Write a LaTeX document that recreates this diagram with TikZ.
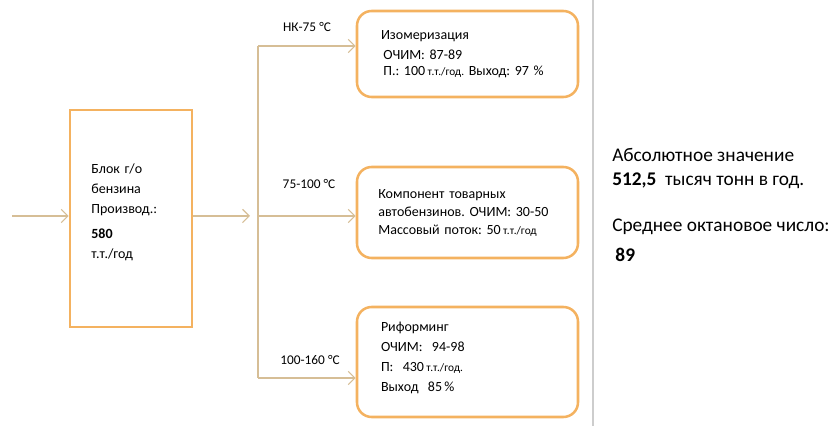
\documentclass[tikz,border=0pt]{standalone}
\usepackage{fontspec}
\setmainfont{Carlito}
\frenchspacing
\usetikzlibrary{arrows.meta}
\definecolor{boxorange}{RGB}{244,178,96}
\definecolor{flowtan}{RGB}{214,190,150}
\definecolor{sepgray}{RGB}{205,205,205}
\newcommand{\unitsm}[1]{{\fontsize{8.5}{10}\selectfont #1}}
\tikzset{
	blockbox/.style={draw=boxorange, line width=1.9pt, minimum width=91.5pt, minimum height=162.75pt, inner xsep=16pt, text width=59.5pt, align=left, font=\fontsize{10.5}{15}\selectfont},
	procbox/.style={draw=boxorange, line width=1.9pt, rounded corners=11pt, minimum width=165.75pt, inner xsep=18pt, text width=129.75pt, align=left, font=\fontsize{10.5}{13.5}\selectfont},
	flow/.style={draw=flowtan, line width=0.8pt},
	flowarrow/.style={flow, -{Straight Barb[length=5pt,width=10pt]}},
	templabel/.style={inner sep=0.75pt, font=\fontsize{10}{12}\selectfont},
	sumtext/.style={anchor=north west, inner sep=0pt, align=left, font=\fontsize{14.5}{18}\selectfont}
}
\begin{document}
\begin{tikzpicture}[x=0.75pt,y=0.75pt,yscale=-1,xscale=1]
	\useasboundingbox (0,0) rectangle (829,434);
	%Separator line
	\draw [color=sepgray, line width=0.8pt] (593,0) -- (593,426) ;
	%Feed block
	\draw (131,218.5) node (block) [blockbox] {Блок г/о\\бензина\\Производ.:\\[4pt]\textbf{580}\\т.т./год\\[-4pt]\mbox{}};
	%Process boxes
	\draw (467.5,54) node (iso) [procbox, minimum height=64.5pt] {Изомеризация\\[1.5pt]\,ОЧИМ: 87-89\\[-2pt]\,П.: 100\,\unitsm{т.т./год.} Выход: 97 \%};
	\draw (467.5,212.5) node (comp) [procbox, minimum height=68.25pt, inner xsep=16pt, text width=133.75pt] {Компонент товарных\\автобензинов. ОЧИМ: 30-50\\Массовый поток: 50\,\unitsm{т.т./год}};
	\draw (467.5,362) node (ref) [procbox, minimum height=82.5pt, font=\fontsize{10.5}{15}\selectfont] {Риформинг\\ОЧИМ:~ 94-98\\П:~ 430\,\unitsm{т.т./год.}\\Выход~ 85\,\%\\[-7.5pt]\mbox{}};
	%Bus and branches
	\coordinate (feed) at (12,216) ;
	\coordinate (split) at (250,216) ;
	\coordinate (busA) at (258,46) ;
	\coordinate (busB) at (258,216) ;
	\coordinate (busC) at (258,378) ;
	\draw [flowarrow] (feed) -- (feed -| block.west) ;
	\draw [flowarrow] (split -| block.east) -- (split) ;
	\draw [flow] (busA) -- (busC) ;
	\draw [flowarrow] (busA) -- (busA -| iso.west) ;
	\draw [flowarrow] (busB) -- (busB -| comp.west) ;
	\draw [flowarrow] (busC) -- (busC -| ref.west) ;
	%Temperature labels
	\draw (307,27) node (tempA) [templabel] {НК-75 °C};
	\draw (309,184) node (tempB) [templabel] {75-100 °C};
	\draw (310,360) node (tempC) [templabel] {100-160 °C};
	%Summary
	\draw (612,148) node (absval) [sumtext] {Абсолютное значение\\\textbf{512,5}~ тысяч тонн в год.};
	\draw (612,219) node (octane) [sumtext] {Среднее октановое число:\\[4pt]\,\textbf{89}};
\end{tikzpicture}
\end{document}
